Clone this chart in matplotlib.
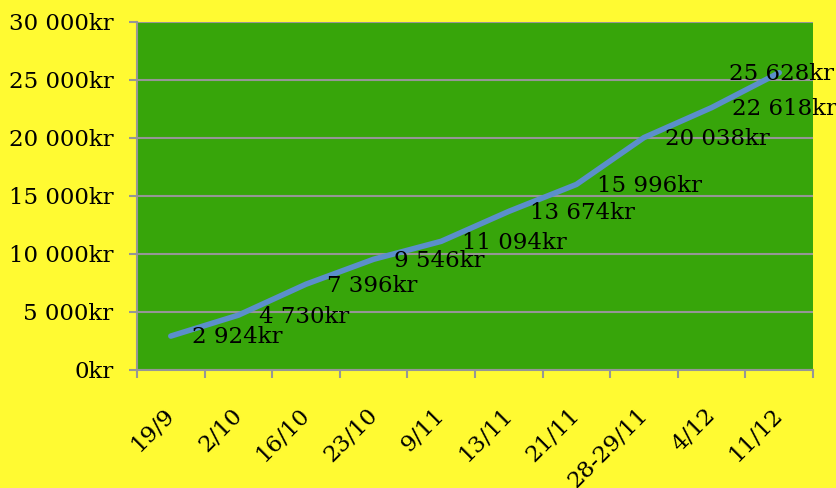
import numpy as np
import matplotlib
matplotlib.use("Agg")
import matplotlib.pyplot as plt

# data
dates = ["19/9", "2/10", "16/10", "23/10", "9/11", "13/11", "21/11",
         "28-29/11", "4/12", "11/12"]
totals = [2924, 4730, 7396, 9546, 11094, 13674, 15996, 20038, 22618, 25628]
y_ticks = [0, 5000, 10000, 15000, 20000, 25000, 30000]

YELLOW = "#FFFA32"
GREEN = "#37A50A"
BLUE = "#5B8FCB"
GRID = "#969696"
FS = 16.5


def kr(v):
    # "25 628kr" style, space as thousands separator
    return f"{v:,}".replace(",", " ") + "kr"


plt.rcParams["font.family"] = ["DejaVu Serif"]

fig = plt.figure(figsize=(8.37, 4.88), dpi=100, facecolor=YELLOW)
ax = fig.add_axes([137 / 837, 118 / 488, 676 / 837, 348 / 488])
ax.set_facecolor(GREEN)

x = np.arange(len(dates))
ax.plot(x, totals, color=BLUE, lw=4, solid_capstyle="round",
        solid_joinstyle="round", zorder=3)

# data labels to the right of each point, last one pulled back inside
for i, v in enumerate(totals):
    dx = 15 if i < len(totals) - 1 else -36
    ax.annotate(kr(v), (x[i], v), xytext=(dx, -1), textcoords="offset points",
                ha="left", va="center", fontsize=FS, color="black", zorder=4)

ax.set_xlim(-0.5, len(dates) - 0.5)
ax.set_ylim(0, 30000)

ax.set_yticks(y_ticks)
ax.set_yticklabels([kr(v) for v in y_ticks], fontsize=FS)
ax.yaxis.grid(True, color=GRID, lw=1.5)
ax.set_axisbelow(True)
ax.tick_params(axis="y", length=6, width=1.5, color=GRID, pad=11)

# category labels at centres, tick marks at the boundaries
ax.set_xticks(x)
ax.set_xticklabels(dates, rotation=45, ha="right", va="center",
                   rotation_mode="anchor", fontsize=FS)
ax.tick_params(axis="x", which="major", length=0, pad=30)
ax.set_xticks(np.arange(len(dates) + 1) - 0.5, minor=True)
ax.tick_params(axis="x", which="minor", length=6, width=1.5, color=GRID)

for s in ["top", "right"]:
    ax.spines[s].set_visible(False)
for s in ["left", "bottom"]:
    ax.spines[s].set_color(GRID)
    ax.spines[s].set_linewidth(1.5)

fig.savefig("out.png", dpi=100, facecolor=YELLOW)
